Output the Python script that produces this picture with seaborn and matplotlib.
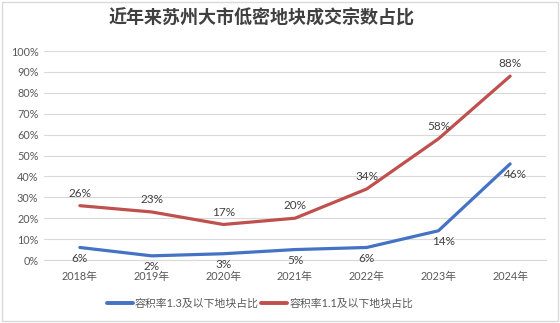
import matplotlib
matplotlib.use("Agg")
import matplotlib.pyplot as plt
import seaborn as sns
import pandas as pd
from matplotlib.patches import Rectangle

years = ["2018年", "2019年", "2020年", "2021年", "2022年", "2023年", "2024年"]
series_names = ["容积率1.3及以下地块占比", "容积率1.1及以下地块占比"]
vals_13 = [6, 2, 3, 5, 6, 14, 46]
vals_11 = [26, 23, 17, 20, 34, 58, 88]
yticks = [0, 10, 20, 30, 40, 50, 60, 70, 80, 90, 100]

sns.set_theme(style="white")
plt.rcParams['font.family'] = ['Lato', 'Noto Sans CJK SC', 'DejaVu Sans']

df = pd.DataFrame({
    "year": years * 2,
    "value": vals_13 + vals_11,
    "series": [series_names[0]] * len(years) + [series_names[1]] * len(years),
})

colors = {series_names[0]: "#4472C4", series_names[1]: "#C0504D"}

fig = plt.figure(figsize=(5.6, 3.23), dpi=100)
ax = fig.add_axes([0.0786, 0.195, 0.8964, 0.647])

sns.lineplot(data=df, x="year", y="value", hue="series", palette=colors,
             linewidth=2.3, ax=ax, legend=True, sort=False)

ax.set_xlim(-0.5, len(years) - 0.5)
ax.set_ylim(0, 100)
ax.set_yticks(yticks)
ax.set_yticklabels([f"{v}%" for v in yticks], fontsize=7.8, color="#595959")
ax.set_xticks(range(len(years)))
ax.set_xticklabels(years, fontsize=7.8, color="#595959")
ax.tick_params(axis="x", pad=8, length=0)
ax.tick_params(axis="y", pad=4, length=0)
ax.set_xlabel("")
ax.set_ylabel("")
ax.yaxis.grid(True, color="#D9D9D9", linewidth=0.8)
ax.set_axisbelow(True)
for s in ["top", "right", "left"]:
    ax.spines[s].set_visible(False)
ax.spines["bottom"].set_color("#D9D9D9")
ax.spines["bottom"].set_linewidth(0.8)

for i, v in enumerate(vals_11):
    ax.annotate(f"{v}%", (i, v), xytext=(0, 5), textcoords="offset points",
                ha="center", va="bottom", fontsize=8.5, color="#404040")
for i, v in enumerate(vals_13):
    dx = 4 if i >= len(vals_13) - 2 else 0
    ax.annotate(f"{v}%", (i, v), xytext=(dx, -4), textcoords="offset points",
                ha="center", va="top", fontsize=8.5, color="#404040")

leg = ax.legend(loc="center", bbox_to_anchor=(0.43, -0.205), ncol=2, frameon=False,
                fontsize=7.8, handlelength=2.4, columnspacing=0.2, handletextpad=0.2,
                labelcolor="#595959")
for line in leg.get_lines():
    line.set_linewidth(2.8)

fig.text(0.467, 0.945, "近年来苏州大市低密地块成交宗数占比", ha="center", va="center",
         fontsize=13, fontweight="bold", color="#404040",
         family=['Noto Sans CJK SC', 'DejaVu Sans'])

fig.patches.append(Rectangle((0.003, 0.005), 0.994, 0.99, transform=fig.transFigure,
                             fill=False, edgecolor="#D9D9D9", linewidth=1))

fig.savefig("out.png", dpi=100)
